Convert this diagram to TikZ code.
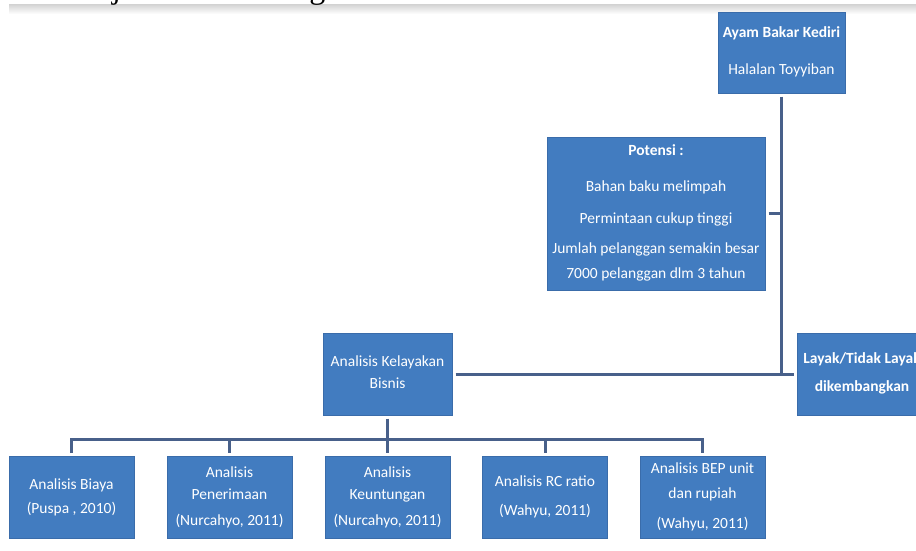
\documentclass[tikz,border=0pt]{standalone}
\usepackage{fontspec}
\setmainfont{Carlito}
\newfontfamily\serifhead{Liberation Serif}
\definecolor{boxblue}{RGB}{66,124,192}
\definecolor{boxedge}{RGB}{58,108,170}
\definecolor{linec}{RGB}{72,96,138}
\begin{document}
\begin{tikzpicture}[x=1pt,y=-1pt,
  box/.style={rectangle, draw=boxedge, line width=0.5pt, fill=boxblue,
    text=white, align=center, inner sep=0pt, outer sep=3.5pt,
    font=\fontsize{15.5}{18}\selectfont},
  smallbox/.style={box, minimum width=125, minimum height=82},
  conn/.style={draw=linec, line width=3pt, line join=miter}]
\useasboundingbox (0,0) rectangle (916,551);
\clip (0,0) rectangle (916,551);
\fill[white] (0,0) rectangle (916,551);
% cropped heading line
\shade[top color=black!16, bottom color=white] (9,5) rectangle (916,14);
\node[anchor=base east, inner sep=0pt, font=\serifhead\fontsize{32}{36}\selectfont] (head) at (474,-1.5) {pemikiran disajikan dalam diagram berikut};
% boxes
\node[box, minimum width=127, minimum height=81] (ayam) at (781.5,52.5)
  {\textbf{Ayam Bakar Kediri}\strut\\[19pt]Halalan Toyyiban\strut};
\node[box, minimum width=218, minimum height=153] (pot) at (656,213.5)
  {\textbf{Potensi :}\strut\\[18pt]Bahan baku melimpah\strut\\[14pt]Permintaan cukup tinggi\strut\\[12pt]Jumlah pelanggan semakin besar\strut\\[7pt]7000 pelanggan dlm 3 tahun\strut};
\node[box, minimum width=129, minimum height=82] (akb) at (387.5,374)
  {Analisis Kelayakan\strut\\[4pt]Bisnis\strut};
\node[box, minimum width=130, minimum height=82] (lay) at (862,374)
  {\textbf{Layak/Tidak Layak}\strut\\[10pt]\textbf{dikembangkan}\strut};
\node[smallbox] (b1) at (71.5,497.5) {Analisis Biaya\strut\\[6pt](Puspa , 2010)\strut};
\node[smallbox] (b2) at (229.5,497.5) {Analisis\strut\\[4pt]Penerimaan\strut\\[8pt](Nurcahyo, 2011)\strut};
\node[smallbox] (b3) at (387.5,497.5) {Analisis\strut\\[4pt]Keuntungan\strut\\[8pt](Nurcahyo, 2011)\strut};
\node[smallbox] (b4) at (545,497.5) {Analisis RC ratio\strut\\[11pt](Wahyu, 2011)\strut};
\node[smallbox] (b5) at (702.5,497.5) {Analisis BEP unit\strut\\[7pt]dan rupiah\strut\\[12pt](Wahyu, 2011)\strut};
% connectors
\coordinate (jr) at (781.5,374);
\coordinate (bus) at (0,439);
\draw[conn] (ayam.south) -- (jr);
\draw[conn] (pot.east) -- (pot.east -| jr);
\draw[conn] (akb.east) -- (lay.west);
\draw[conn] (akb.south) -- (akb.south |- bus);
\draw[conn] (b1.north) -- (b1.north |- bus) -- (b5.north |- bus) -- (b5.north);
\foreach \b in {b2,b3,b4} \draw[conn] (\b.north |- bus) -- (\b.north);
\end{tikzpicture}
\end{document}
